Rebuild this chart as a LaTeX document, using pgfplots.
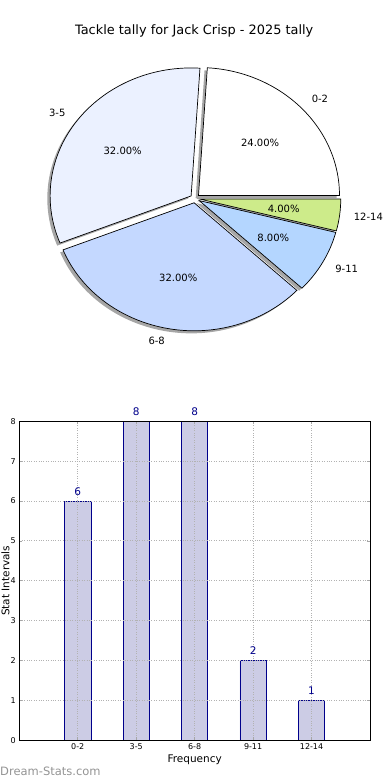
\documentclass[border=0pt]{standalone}
\usepackage{fontspec}
\setmainfont{DejaVu Sans}
\usepackage{pgfplots}
\usepackage{pgfplotstable}
\pgfplotsset{compat=1.18}
\definecolor{pieA}{HTML}{FFFFFF}
\definecolor{pieB}{HTML}{EBF1FF}
\definecolor{pieC}{HTML}{C4D8FF}
\definecolor{pieD}{HTML}{B4D6FF}
\definecolor{pieE}{HTML}{CDEB8A}
\definecolor{barfill}{HTML}{CCCCE5}
\definecolor{navyc}{HTML}{00008B}
\begin{document}
\begin{tikzpicture}
\pgfplotstableread{
label value color
0-2 6 pieA
3-5 8 pieB
6-8 8 pieC
9-11 2 pieD
12-14 1 pieE
}\tallydata
\path[use as bounding box] (0pt,0pt) rectangle (390pt,780pt);
\node[font=\fontsize{12.9}{15}\selectfont, anchor=base, inner sep=0pt] at (194.2pt,745.7pt) {Tackle tally for Jack Crisp - 2025 tally};

% ---------- pie ----------
\begin{axis}[at={(11.7pt,415.1pt)}, anchor=south west, x=141pt, y=128pt,
  xmin=-1.3, xmax=1.3, ymin=-1.3, ymax=1.3, hide axis, clip=false]
\addplot[draw=none] coordinates {(0,0)};
\pgfplotsextra{%
  \def\ex{0.034}%
  \pgfplotstablegetrowsof{\tallydata}%
  \pgfmathtruncatemacro\lastrow{\pgfplotsretval-1}%
  \gdef\tot{0}%
  \foreach \i in {0,...,\lastrow}{%
    \pgfplotstablegetelem{\i}{value}\of\tallydata
    \pgfmathsetmacro\tmpsum{\tot+\pgfplotsretval}\xdef\tot{\tmpsum}}%
  % shadows
  \gdef\cum{0}%
  \foreach \i in {0,...,\lastrow}{%
    \pgfplotstablegetelem{\i}{value}\of\tallydata
    \pgfmathsetmacro\angA{\cum}%
    \pgfmathsetmacro\angB{\cum+360*\pgfplotsretval/\tot}%
    \pgfmathsetmacro\angM{(\angA+\angB)/2}%
    \pgfmathsetmacro\ox{\ex*cos(\angM)-0.02}%
    \pgfmathsetmacro\oy{\ex*sin(\angM)-0.02}%
    \fill[black,opacity=0.35] (axis cs:\ox,\oy) -- (axis cs:{\ox+cos(\angA)},{\oy+sin(\angA)})
      arc[start angle=\angA,end angle=\angB,x radius=141pt,y radius=128pt] -- cycle;
    \xdef\cum{\angB}}%
  % wedges and labels
  \gdef\cum{0}%
  \foreach \i in {0,...,\lastrow}{%
    \pgfplotstablegetelem{\i}{value}\of\tallydata
    \pgfmathsetmacro\val{\pgfplotsretval}%
    \pgfplotstablegetelem{\i}{color}\of\tallydata
    \edef\col{\pgfplotsretval}%
    \pgfplotstablegetelem{\i}{label}\of\tallydata
    \edef\lab{\pgfplotsretval}%
    \pgfmathsetmacro\angA{\cum}%
    \pgfmathsetmacro\angB{\cum+360*\val/\tot}%
    \pgfmathsetmacro\angM{(\angA+\angB)/2}%
    \pgfmathsetmacro\ox{\ex*cos(\angM)}%
    \pgfmathsetmacro\oy{\ex*sin(\angM)}%
    \fill[fill=\col, draw=black, line width=0.7pt] (axis cs:\ox,\oy) -- (axis cs:{\ox+cos(\angA)},{\oy+sin(\angA)})
      arc[start angle=\angA,end angle=\angB,x radius=141pt,y radius=128pt] -- cycle;
    \pgfmathtruncatemacro\isright{cos(\angM)>0}%
    \ifnum\isright=1 \def\anc{west}\else\def\anc{east}\fi
    \pgfmathsetmacro\pct{100*\val/\tot}%
    \node[anchor=\anc, inner sep=0pt, font=\fontsize{10}{12}\selectfont] at (axis cs:{(1.1+\ex)*cos(\angM)},{(1.1+\ex)*sin(\angM)}) {\lab};
    \node[anchor=center, inner sep=0pt, font=\fontsize{10}{12}\selectfont] at (axis cs:{(0.6+\ex)*cos(\angM)},{(0.6+\ex)*sin(\angM)})
      {\pgfmathprintnumber[fixed,fixed zerofill,precision=2,assume math mode=true]{\pct}\%};
    \xdef\cum{\angB}}%
}
\end{axis}

% ---------- bars ----------
\begin{axis}[at={(19.3pt,39.7pt)}, anchor=south west, scale only axis,
  width=350.7pt, height=319pt,
  xmin=-1, xmax=5, ymin=0, ymax=8,
  xtick={0,...,4}, xticklabels from table={\tallydata}{label},
  ytick={0,...,8},
  /pgf/number format/assume math mode=true,
  ticklabel style={font=\fontsize{8}{9}\selectfont},
  grid=major, grid style={gray!60, dotted, line width=0.9pt},
  tick align=inside, major tick length=3pt, tick style={gray!70, line width=0.8pt},
  axis line style={line width=0.9pt},
  axis on top, clip=false,
  xlabel={Frequency},
  xlabel style={font=\fontsize{10.5}{12}\selectfont, at={(axis description cs:0.5,0)}, anchor=base, yshift=-22.7pt},
  ylabel={Stat Intervals},
  ylabel style={font=\fontsize{10.5}{12}\selectfont, at={(axis description cs:-0.028,0.5)}, anchor=base, rotate=0},
  nodes near coords,
  nodes near coords style={font=\fontsize{10.5}{12}\selectfont, text=navyc, inner sep=0pt, anchor=south, yshift=5.3pt},
]
\addplot[ybar, bar width=0.45, fill=barfill, draw=navyc, line width=0.8pt] table[x expr=\coordindex, y=value]{\tallydata};
\end{axis}

\node[anchor=base west, inner sep=0pt, text=black!42, font=\fontsize{11.5}{13}\selectfont] at (0pt,5pt) {Dream-Stats.com};
\end{tikzpicture}
\end{document}
